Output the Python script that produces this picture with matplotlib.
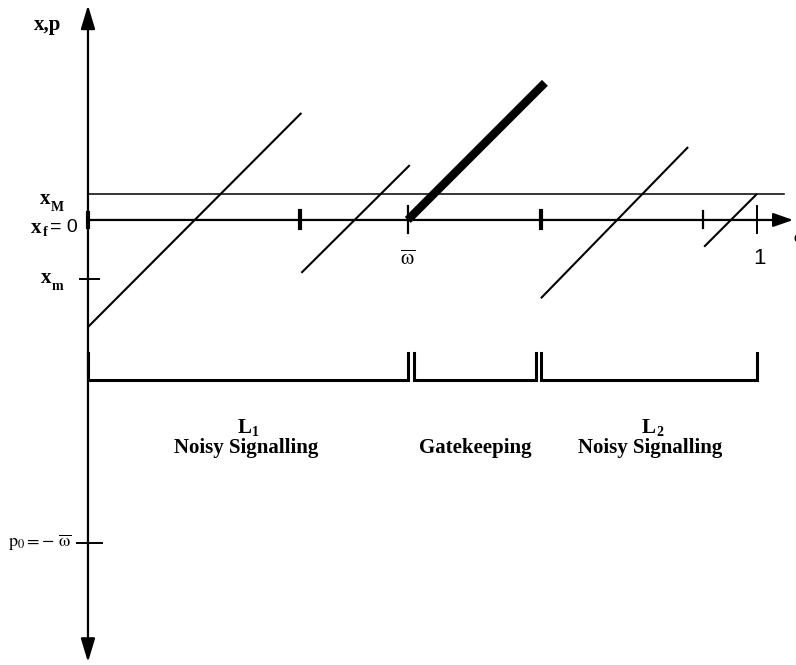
import matplotlib
matplotlib.use("Agg")
import matplotlib.pyplot as plt

plt.rcParams['mathtext.fontset'] = 'stix'

# ---- data (schematic coordinates: omega on x, x/p on y) ----
omega_bar = 0.478
axis_ticks = [0.317, 0.677, 0.919]
x_M = 0.039
x_m = -0.088
p0 = -0.483

# noisy-signalling line segments
seg_w0 = [0.0, 0.319, 0.677, 0.921]
seg_w1 = [0.319, 0.481, 0.897, 1.0]
seg_y0 = [-0.160, -0.079, -0.117, -0.040]
seg_y1 = [0.160, 0.082, 0.109, 0.039]

# gatekeeping (thick) segment
gate_w = [0.478, 0.683]
gate_y = [0.0, 0.205]

# region brackets
region_start = [0.0, 0.488, 0.677]
region_end = [0.478, 0.670, 1.0]
bracket_top = -0.199
bracket_bottom = -0.239
region_title = ["L", "", "L"]
region_sub = ["1", "", "2"]
region_name = ["Noisy Signalling", "Gatekeeping", "Noisy Signalling"]
region_center = [0.233, 0.576, 0.837]

fig = plt.figure(figsize=(7.96, 6.65), dpi=100)
ax = fig.add_axes([0, 0, 1, 1])
ax.set_xlim(-0.1315, 1.0583)
ax.set_ylim(-0.6652, 0.3288)
ax.axis('off')

serif = 'Liberation Serif'

# vertical axis (double arrow)
ax.annotate('', xy=(0, 0.321), xytext=(0, -0.661),
            arrowprops=dict(arrowstyle='<|-|>,head_length=0.4,head_width=0.12',
                            mutation_scale=36, lw=1.6, color='black',
                            shrinkA=0, shrinkB=0))
# horizontal axis
ax.annotate('', xy=(1.054, 0), xytext=(0, 0),
            arrowprops=dict(arrowstyle='-|>,head_length=0.4,head_width=0.14',
                            mutation_scale=30, lw=1.6, color='black',
                            shrinkA=0, shrinkB=0))
# x_M horizontal line
ax.plot([0, 1.04], [x_M, x_M], color='black', lw=1.1)

# ticks on horizontal axis
ax.plot([0, 0], [-0.010, 0.010], color='black', lw=3)
for i, w in enumerate(axis_ticks):
    ax.plot([w, w], [-0.012, 0.013], color='black', lw=3 if i < 2 else 1.6)
ax.plot([omega_bar, omega_bar], [-0.019, 0.021], color='black', lw=1.6)
ax.plot([1.0, 1.0], [-0.019, 0.021], color='black', lw=1.4)

# ticks on vertical axis
ax.plot([-0.012, 0.016], [x_m, x_m], color='black', lw=1.4)
ax.plot([-0.016, 0.021], [p0, p0], color='black', lw=1.4)

# noisy signalling lines
for a, b, c, d in zip(seg_w0, seg_w1, seg_y0, seg_y1):
    ax.plot([a, b], [c, d], color='black', lw=1.5, solid_capstyle='butt')

# gatekeeping thick line
ax.plot(gate_w, gate_y, color='black', lw=6, solid_capstyle='butt')

# brackets
for s, e in zip(region_start, region_end):
    ax.plot([s, s, e, e], [bracket_top, bracket_bottom, bracket_bottom, bracket_top],
            color='black', lw=2.2, solid_joinstyle='miter')

# region labels
for t, sb, n, c in zip(region_title, region_sub, region_name, region_center):
    if t:
        ax.text(c + 0.012, -0.311, t, ha='right', va='center', fontsize=15,
                family=serif, weight='bold')
        ax.text(c + 0.012, -0.317, sb, ha='left', va='center', fontsize=10,
                family=serif, weight='bold')
    ax.text(c + 0.003, -0.341, n, ha='center', va='center', fontsize=15,
            family=serif, weight='bold')

# axis labels
ax.text(-0.060, 0.291, 'x,p', ha='center', va='center', fontsize=15,
        family=serif, weight='bold')
ax.text(-0.064, 0.032, 'x', ha='center', va='center', fontsize=15,
        family=serif, weight='bold')
ax.text(-0.046, 0.019, 'M', ha='center', va='center', fontsize=10,
        family=serif, weight='bold')
ax.text(-0.077, -0.012, 'x', ha='center', va='center', fontsize=15,
        family=serif, weight='bold')
ax.text(-0.0645, -0.019, 'f', ha='center', va='center', fontsize=10,
        family=serif, weight='bold')
ax.text(-0.016, -0.012, '= 0', ha='right', va='center', fontsize=14,
        family='Liberation Sans')
ax.text(-0.063, -0.086, 'x', ha='center', va='center', fontsize=15,
        family=serif, weight='bold')
ax.text(-0.045, -0.099, 'm', ha='center', va='center', fontsize=10,
        family=serif, weight='bold')
ax.text(-0.024, p0, r'$\mathrm{p}_0 = \mathrm{-}\ \overline{\mathrm{\omega}}$', ha='right',
        va='center', fontsize=13)

ax.text(omega_bar, -0.058, r'$\overline{\mathrm{\omega}}$', ha='center', va='center',
        fontsize=15)
ax.text(1.004, -0.057, '1', ha='center', va='center', fontsize=16,
        family='Liberation Sans')
ax.text(1.063, -0.026, r'$\mathrm{\omega}$', ha='center', va='center', fontsize=13)

fig.savefig('out.png', dpi=100)
